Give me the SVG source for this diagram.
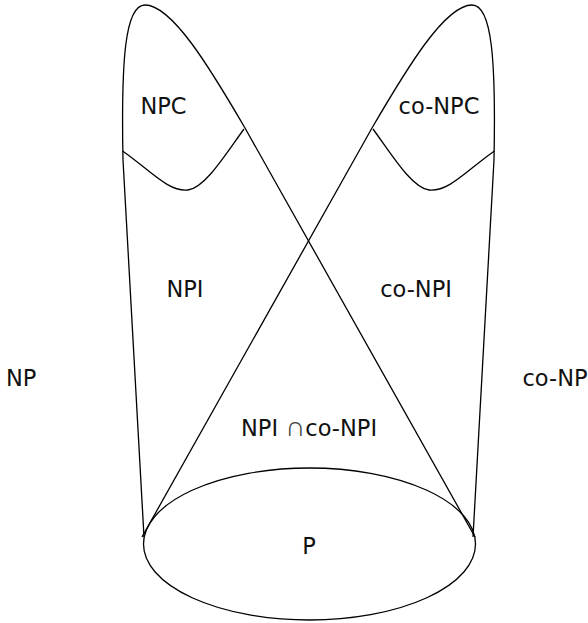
<svg xmlns="http://www.w3.org/2000/svg" width="588" height="623" viewBox="0 0 588 623">
<style>
.ln{fill:none;stroke:#000;stroke-width:1.3}
text{font-family:"DejaVu Sans",sans-serif;font-size:22.5px;fill:#111}
.m{text-anchor:middle}
.cap{font-family:"DejaVu Sans",sans-serif;font-size:28px;font-weight:200;fill:#444}
</style>
<rect width="588" height="623" fill="#fff"/>
<g id="connectors">
<g id="left-lobe">
<path class="ln" d="M144,537 L123,160 C121,60 125,5 145,5 C172,5 210,68 245,128 L475,537"/>
<path class="ln" d="M122.5,151 C150,170 168,192 188,190 C205,188 225,155 244,129"/>
</g>
<g id="right-lobe" transform="translate(617,0) scale(-1,1)">
<path class="ln" d="M144,537 L123,160 C121,60 125,5 145,5 C172,5 210,68 245,128 L475,537"/>
<path class="ln" d="M122.5,151 C150,170 168,192 188,190 C205,188 225,155 244,129"/>
</g>
</g>
<g id="P"><ellipse class="ln" cx="309.5" cy="544" rx="166" ry="76"/><text class="m" x="309" y="554">P</text></g>
<g id="NPC"><text class="m" x="163.5" y="114">NPC</text></g>
<g id="coNPC"><text class="m" x="439" y="114">co-NPC</text></g>
<g id="NPI"><text class="m" x="185" y="296.5">NPI</text></g>
<g id="coNPI"><text class="m" x="416" y="296.5">co-NPI</text></g>
<g id="NP"><text x="6" y="386">NP</text></g>
<g id="coNP"><text class="m" x="555" y="386">co-NP</text></g>
<g id="NPIcoNPI">
<text x="241" y="436">NPI <tspan class="cap">∩</tspan>co-NPI</text>
</g>
</svg>
